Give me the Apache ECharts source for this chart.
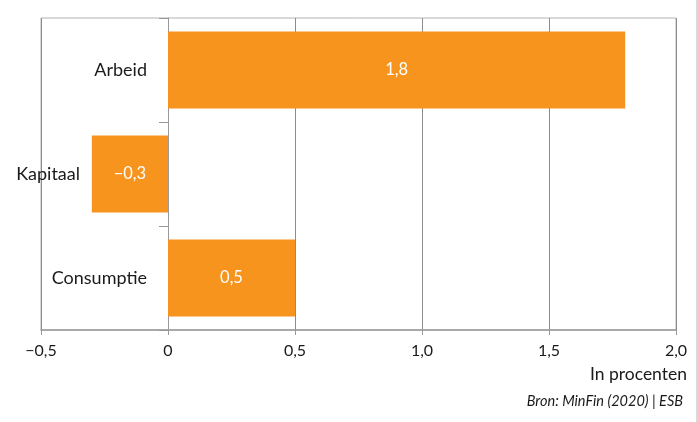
<!DOCTYPE html>
<html>
<head>
<meta charset="utf-8">
<script src="https://cdn.jsdelivr.net/npm/echarts@6/dist/echarts.min.js"></script>
<style>
html,body{margin:0;padding:0;background:#fff;}
#c{width:698px;height:422px;}
</style>
</head>
<body>
<div id="c"></div>
<script>
var categories = ["Arbeid", "Kapitaal", "Consumptie"];
var values = [1.8, -0.3, 0.5];
var xTicks = [-0.5, 0, 0.5, 1.0, 1.5, 2.0];
var unitLabel = "In procenten";
var sourceLabel = "Bron: MinFin (2020) | ESB";

function fmt(v) {
  var s = (Math.abs(v) < 1e-9) ? "0" : Math.abs(v).toFixed(1).replace(".", ",");
  return (v < -1e-9 ? "\u2212" : "") + s;
}

var chart = echarts.init(document.getElementById('c'), null, {renderer: 'canvas'});
var FONT = "Lato";
chart.setOption({
  animation: false,
  backgroundColor: '#ffffff',
  grid: {left: 41, right: 22, top: 18, bottom: 92, containLabel: false, outerBoundsMode: 'none',
    show: true, borderColor: '#b3b3b3', borderWidth: 1, backgroundColor: 'transparent'},
  xAxis: {
    type: 'value', min: -0.5, max: 2.0, interval: 0.5,
    axisLine: {show: true, lineStyle: {color: '#999999', width: 1.5}},
    axisTick: {show: true, length: 5, lineStyle: {color: '#999999'}},
    splitLine: {show: true, lineStyle: {color: '#8c8c8c', width: 1}},
    axisLabel: {color: '#1a1a1a', fontFamily: FONT, fontSize: 16, margin: 13,
      formatter: function (v) { return fmt(v); }}
  },
  yAxis: {
    type: 'category', data: categories, inverse: true,
    axisLine: {show: true, onZero: true, lineStyle: {color: '#999999', width: 1}},
    axisTick: {show: true, length: 9, lineStyle: {color: '#999999'}},
    axisLabel: {
      margin: -106, color: '#1a1a1a', fontFamily: FONT, fontSize: 18,
      formatter: function (v) { return v === 'Kapitaal' ? '{k|' + v + '}' : '{n|' + v + '}'; },
      rich: {
        n: {fontFamily: FONT, fontSize: 18, color: '#1a1a1a'},
        k: {fontFamily: FONT, fontSize: 18, color: '#1a1a1a', padding: [0, 67, 0, 0]}
      }
    }
  },
  series: [{
    type: 'bar', data: values, barCategoryGap: '26%',
    itemStyle: {color: '#F7941D'},
    label: {show: true, position: 'inside', color: '#ffffff', fontFamily: FONT, fontSize: 16.5,
      formatter: function (p) { return fmt(p.value); }}
  }],
  graphic: [
    {type: 'text', right: 11, top: 365, style: {text: unitLabel, fontFamily: FONT, fontSize: 17.5, fill: '#1a1a1a', textAlign: 'right'}},
    {type: 'text', right: 15, top: 394, style: {text: sourceLabel, fontFamily: FONT, fontStyle: 'italic', fontSize: 14.5, fill: '#1a1a1a', textAlign: 'right'}},
    {type: 'line', shape: {x1: 697, y1: 0, x2: 697, y2: 422}, style: {stroke: '#b3b3b3', lineWidth: 1}}
  ]
});
</script>
</body>
</html>
